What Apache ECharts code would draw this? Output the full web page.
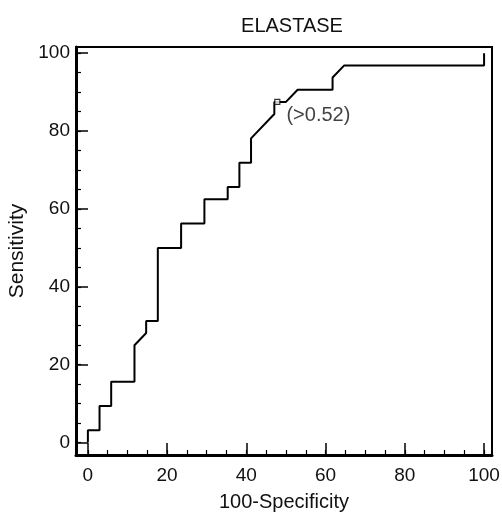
<!DOCTYPE html>
<html><head><meta charset="utf-8">
<script src="https://cdn.jsdelivr.net/npm/echarts@6/dist/echarts.min.js"></script>
<style>html,body{margin:0;padding:0;background:#fff}#c{width:502px;height:512px}</style>
</head><body><div id="c"></div>
<script>
var title = 'ELASTASE';
var xName = '100-Specificity';
var yName = 'Sensitivity';
var fpr  = [0, 0, 2.94, 2.94, 5.88, 5.88, 11.76, 11.76, 14.71, 14.71, 17.65, 17.65, 23.53, 23.53, 29.41, 29.41, 35.29, 35.29, 38.24, 38.24, 41.18, 41.18, 47.06, 47.06, 50, 52.94, 61.76, 61.76, 64.71, 100, 100];
var sens = [0, 3.13, 3.13, 9.38, 9.38, 15.63, 15.63, 25, 28.13, 31.25, 31.25, 50, 50, 56.25, 56.25, 62.5, 62.5, 65.63, 65.63, 71.88, 71.88, 78.13, 84.38, 87.5, 87.5, 90.63, 90.63, 93.75, 96.88, 96.88, 100];
var cutoffPoint = [47.06, 87.5];
var cutoffLabel = '(>0.52)';
var xTicks = [0, 20, 40, 60, 80, 100];
var yTicks = [0, 20, 40, 60, 80, 100];
var minorTicks = [0, 5, 10, 15, 20, 25, 30, 35, 40, 45, 50, 55, 60, 65, 70, 75, 80, 85, 90, 95, 100];

var font = 'Liberation Sans, Arial, sans-serif';
var chart = echarts.init(document.getElementById('c'));
var curve = fpr.map(function(v, i){ return [v, sens[i]]; });

function majorAxis(ticks, min, max, labelMargin, pos){
  return {
    type: 'value', min: min, max: max, position: pos,
    axisLine: {show: true, onZero: false, lineStyle: {color: '#000', width: 3}},
    axisTick: {show: true, inside: true, length: 12, customValues: ticks, lineStyle: {color: '#000', width: 1.5}},
    splitLine: {show: false},
    axisLabel: {color: '#111', fontSize: 19, fontFamily: font, margin: labelMargin, customValues: ticks}
  };
}
function minorAxis(min, max, pos){
  return {
    type: 'value', min: min, max: max, position: pos,
    axisLine: {show: false, onZero: false},
    axisTick: {show: true, inside: true, length: 5, customValues: minorTicks, lineStyle: {color: '#000', width: 1.2}},
    splitLine: {show: false},
    axisLabel: {show: false}
  };
}
var xa = majorAxis(xTicks, -3, 102, 11, 'bottom');
xa.name = xName; xa.nameLocation = 'middle'; xa.nameGap = 37;
xa.nameTextStyle = {color: '#111', fontSize: 20, fontFamily: font};
var ya = majorAxis(yTicks, -3.2, 101.6, 6, 'left');
ya.name = yName; ya.nameLocation = 'middle'; ya.nameGap = 44;
ya.nameTextStyle = {color: '#111', fontSize: 21, fontFamily: font};

chart.setOption({
  animation: false,
  backgroundColor: '#fff',
  title: {text: title, left: 287, top: 11, textAlign: 'center',
    textStyle: {color: '#111', fontSize: 20, fontWeight: 'normal', fontFamily: font}},
  grid: {left: 76, right: 10, top: 47, bottom: 57, show: true, borderColor: '#000', borderWidth: 2,
    containLabel: false, outerBoundsMode: 'none'},
  xAxis: [xa, minorAxis(-3, 102, 'bottom')],
  yAxis: [ya, minorAxis(-3.2, 101.6, 'left')],
  series: [
    {type: 'line', data: curve, showSymbol: false, symbol: 'none',
     lineStyle: {color: '#000', width: 2}, z: 3},
    {type: 'scatter', data: [cutoffPoint], symbol: 'rect', symbolSize: 5, symbolOffset: [3, 0],
     itemStyle: {color: '#fff', borderColor: '#000', borderWidth: 1.2}, z: 4,
     label: {show: true, position: 'right', offset: [1, 14], formatter: cutoffLabel,
       color: '#111', fontSize: 20, fontFamily: font}}
  ]
});
</script></body></html>
